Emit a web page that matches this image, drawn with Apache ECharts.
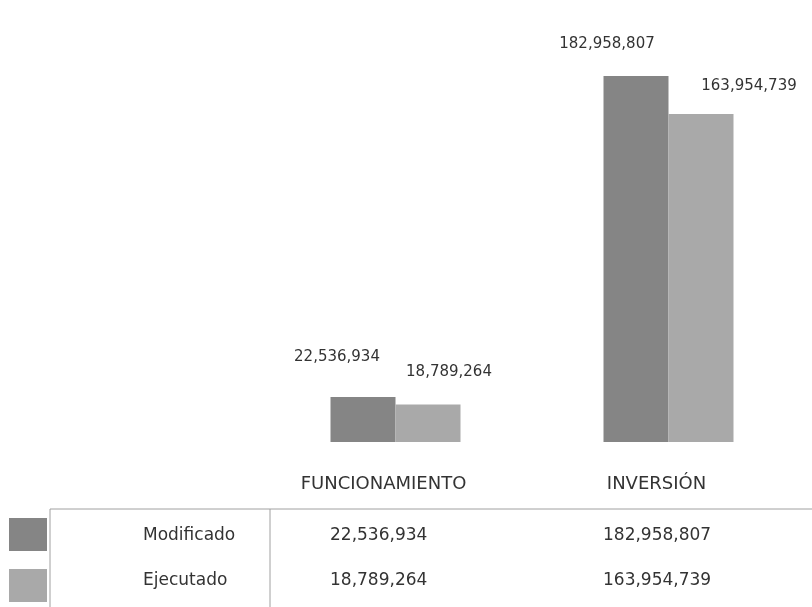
<!DOCTYPE html>
<html>
<head>
<meta charset="utf-8">
<script src="https://cdn.jsdelivr.net/npm/echarts@6/dist/echarts.min.js"></script>
<style>
  html, body { margin: 0; padding: 0; background: #fff; }
  #main { width: 812px; height: 607px; }
</style>
</head>
<body>
<div id="main"></div>
<script>
// datos
const categories = ['FUNCIONAMIENTO', 'INVERSIÓN']
const seriesNames = ['Modificado', 'Ejecutado']
const modificado = [22536934, 182958807]
const ejecutado = [18789264, 163954739]

// desplazamiento de etiquetas (estilo, no datos)
const labelOffsets = [
  [[-26, -27], [-29, -19]],
  [[21, -20], [48, -15]]
]
const colors = ['#858585', '#a9a9a9']
const font = 'DejaVu Sans'

const fmt = v => v.toLocaleString('en-US')

const chart = echarts.init(document.getElementById('main'))

const series = [modificado, ejecutado].map((values, s) => ({
  name: seriesNames[s],
  type: 'bar',
  barWidth: 65,
  barGap: '0%',
  itemStyle: { color: colors[s] },
  label: {
    show: true,
    position: 'top',
    fontFamily: font,
    fontSize: 15,
    color: '#333',
    formatter: p => fmt(p.value)
  },
  data: values.map((v, i) => ({
    value: v,
    label: { offset: labelOffsets[s][i] }
  }))
}))

// tabla de datos debajo del eje
const tableGraphics = []
const lineStyle = { stroke: '#a0a0a0', lineWidth: 1 }
tableGraphics.push({ type: 'line', shape: { x1: 50, y1: 509, x2: 812, y2: 509 }, style: lineStyle })
tableGraphics.push({ type: 'line', shape: { x1: 50, y1: 509, x2: 50, y2: 607 }, style: lineStyle })
tableGraphics.push({ type: 'line', shape: { x1: 270, y1: 509, x2: 270, y2: 607 }, style: lineStyle })
const rowY = [536, 581]
const swatchY = [518, 569]
const colX = [330, 603]
const rows = [modificado, ejecutado]
rows.forEach((values, r) => {
  tableGraphics.push({
    type: 'rect',
    shape: { x: 9, y: swatchY[r], width: 38, height: 33 },
    style: { fill: colors[r] }
  })
  tableGraphics.push({
    type: 'text',
    x: 143,
    y: rowY[r],
    style: { text: seriesNames[r], font: '17px "' + font + '"', fill: '#333', verticalAlign: 'middle', align: 'left' }
  })
  values.forEach((v, c) => {
    tableGraphics.push({
      type: 'text',
      x: colX[c],
      y: rowY[r],
      style: { text: fmt(v), font: '17px "' + font + '"', fill: '#333', verticalAlign: 'middle', align: 'left' }
    })
  })
})

const option = {
  animation: false,
  backgroundColor: '#fff',
  grid: {
    left: 259,
    right: 7,
    top: 42,
    bottom: 165,
    containLabel: false
  },
  xAxis: {
    type: 'category',
    data: categories,
    axisLine: { show: false },
    axisTick: { show: false },
    axisLabel: {
      fontFamily: font,
      fontSize: 18,
      color: '#333',
      margin: 33,
      padding: [0, 24, 0, 0]
    }
  },
  yAxis: {
    type: 'value',
    min: 0,
    max: 200000000,
    show: false,
    splitLine: { show: false }
  },
  graphic: tableGraphics,
  series: series
}
chart.setOption(option)
</script>
</body>
</html>
